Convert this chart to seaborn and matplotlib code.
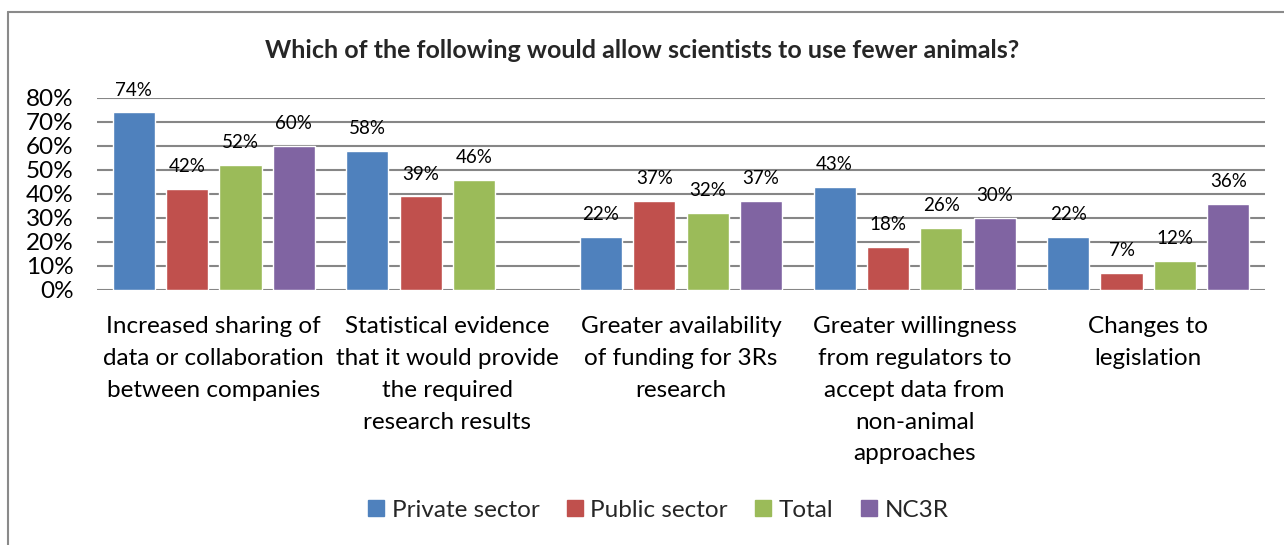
import pandas as pd
import seaborn as sns
import matplotlib.pyplot as plt
from matplotlib.lines import Line2D
from matplotlib.ticker import PercentFormatter

categories = [
    "Increased sharing of\ndata or collaboration\nbetween companies",
    "Statistical evidence\nthat it would provide\nthe required\nresearch results",
    "Greater availability\nof funding for 3Rs\nresearch",
    "Greater willingness\nfrom regulators to\naccept data from\nnon-animal\napproaches",
    "Changes to\nlegislation",
]
series = ["Private sector", "Public sector", "Total", "NC3R"]
private = [0.74, 0.58, 0.22, 0.43, 0.22]
public = [0.42, 0.39, 0.37, 0.18, 0.07]
total = [0.52, 0.46, 0.32, 0.26, 0.12]
nc3r = [0.60, None, 0.37, 0.30, 0.36]
colors = ["#4F81BD", "#C0504D", "#9BBB59", "#8064A2"]

rows = []
for name, vals in zip(series, [private, public, total, nc3r]):
    for cat, v in zip(categories, vals):
        if v is not None:
            rows.append({"cat": cat, "series": name, "value": v})
df = pd.DataFrame(rows)

sns.set_theme(style="white")
plt.rcParams["font.family"] = ["Lato", "DejaVu Sans"]

fig = plt.figure(figsize=(12.84, 5.45), dpi=100)
ax = fig.add_axes([97 / 1284, 1 - 290 / 545, 1168 / 1284, 192 / 545])

sns.barplot(data=df, x="cat", y="value", hue="series", order=categories,
            hue_order=series, palette=colors, width=0.913, gap=0.21,
            saturation=1, ax=ax, legend=False, zorder=3)

for cont in ax.containers:
    ax.bar_label(cont, labels=[f"{b.get_height():.0%}" for b in cont],
                 padding=10, fontsize=13.5, color="#000000")

ax.set_ylim(0, 0.8)
ax.set_xlim(-0.5, 4.5)
ax.set_yticks([i / 10 for i in range(9)])
ax.yaxis.set_major_formatter(PercentFormatter(1.0, decimals=0))
ax.grid(axis="y", color="#868686", linewidth=1.5, zorder=0)
for s in ax.spines.values():
    s.set_visible(False)
ax.set_xlabel("")
ax.set_ylabel("")
ax.tick_params(axis="y", labelsize=17.5, pad=17, length=0, colors="#000000")
ax.tick_params(axis="x", labelsize=17.5, pad=19, length=0, colors="#000000")
for lab in ax.get_xticklabels():
    lab.set_linespacing(1.63)
    lab.set_verticalalignment("top")

fig.text(0.5, 1 - 50 / 545, "Which of the following would allow scientists to use fewer animals?",
         ha="center", va="center", fontsize=18, fontweight="bold")

handles = [Line2D([], [], marker="s", linestyle="none", markersize=11,
                  markerfacecolor=c, markeredgecolor=c) for c in colors]
fig.legend(handles, series, loc="center", bbox_to_anchor=(658 / 1284, 1 - 510 / 545),
           ncol=4, frameon=False, fontsize=17.5, handletextpad=0.3,
           columnspacing=1.1, handlelength=0.7)

fig.add_artist(Line2D([8 / 1284, 8 / 1284], [0, 1 - 12 / 545], color="#8a8a8a",
                      linewidth=1.5, transform=fig.transFigure))
fig.add_artist(Line2D([8 / 1284, 1], [1 - 12 / 545, 1 - 12 / 545], color="#8a8a8a",
                      linewidth=1.5, transform=fig.transFigure))

fig.savefig("out.png", dpi=100)
